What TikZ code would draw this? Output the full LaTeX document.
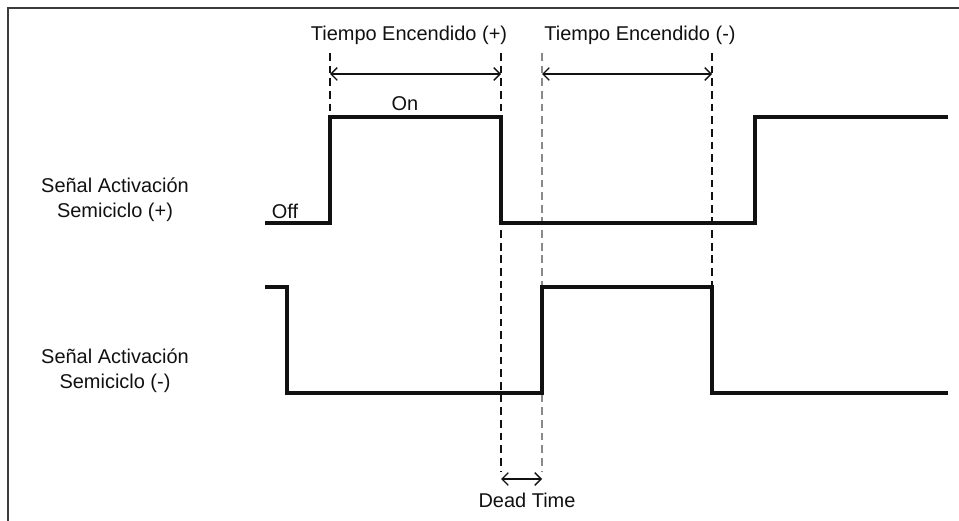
\documentclass[tikz,border=0pt]{standalone}
\usepackage{fontspec}
\setmainfont{Liberation Sans}
\usetikzlibrary{arrows.meta,positioning}
\definecolor{cInk}{HTML}{111111}
\definecolor{cGuide}{HTML}{8A8A8A}
\definecolor{cFrame}{HTML}{3C3C3C}
\tikzset{
  sig/.style ={line width=2.8pt,cInk,line join=miter},
  guide/.style={line width=1.1pt,cInk,dash pattern=on 5.5pt off 3.5pt},
  guideg/.style={guide,cGuide},
  span/.style ={{Straight Barb[length=4.5pt,width=9pt]}-{Straight Barb[length=4.5pt,width=9pt]},line width=0.9pt,cInk},
  lbl/.style ={font=\fontsize{14.2}{17.5}\selectfont,text=cInk,inner sep=0pt,align=center},
}

\begin{document}
\begin{tikzpicture}[x=0.25mm,y=-0.25mm]
\useasboundingbox (0,0) rectangle (959,521);
% frame (top and left)
\draw[line width=1.6pt,cFrame] (8,521) -- (8,8) -- (959,8);

% switching instants
\coordinate (ta) at (330,0);
\coordinate (tb) at (501,0);
\coordinate (tc) at (542,0);
\coordinate (td) at (712,0);
\coordinate (te) at (755,0);

% guide lines (under the signals)
\draw[guide]  (ta |- 0,53) -- (ta |- 0,117);
\draw[guide]  (tb |- 0,53) -- (tb |- 0,472);
\draw[guideg] (tc |- 0,53) -- (tc |- 0,472);
\draw[guide]  (td |- 0,53) -- (td |- 0,287);

% signal (+)
\draw[sig] (265,223) -- (ta |- 0,223) -- (ta |- 0,117) -- (tb |- 0,117)
           -- (tb |- 0,223) -- (te |- 0,223) -- (te |- 0,117) -- (948,117);
% signal (-)
\draw[sig] (265,287) -- (287,287) -- (287,393) -- (tc |- 0,393) -- (tc |- 0,287)
           -- (td |- 0,287) -- (td |- 0,393) -- (948,393);

% time spans
\draw[span] (ta |- 0,74) -- (tb |- 0,74);
\draw[span] (tc |- 0,74) -- (td |- 0,74);
\draw[span] (tb |- 0,479) -- (tc |- 0,479);

% labels
\node[lbl] (tonp) at (409,35)  {Tiempo Encendido (+)};
\node[lbl] (tonn) at (640,35)  {Tiempo Encendido (-)};
\node[lbl] (on)   at (405,104) {On};
\node[lbl] (off)  at (285,211) {Off};
\node[lbl] (dead) at (527,500) {Dead Time};
\node[lbl] (sp)   at (115,200) {Señal Activación\\Semiciclo (+)};
\node[lbl] (sn)   at (115,371) {Señal Activación\\Semiciclo (-)};
\end{tikzpicture}
\end{document}
